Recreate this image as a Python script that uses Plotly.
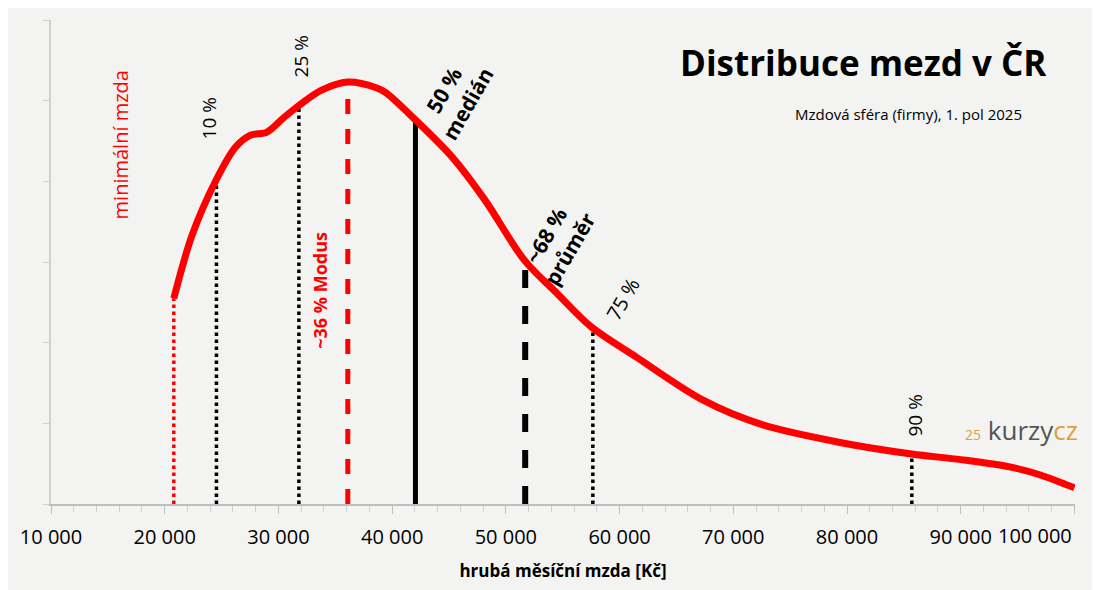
import plotly.graph_objects as go

# wage distribution curve (Kč, relative density)
curve_x = [20800, 22400, 24500, 26200, 27500, 29000, 30400, 31800, 33800, 36100, 38600, 39440,
           42060, 45280, 48150, 51640, 54510, 57470, 61480, 67300, 72600, 79500, 85700,
           90000, 94300, 97000, 100000]
curve_y = [2.55, 3.33, 4.01, 4.42, 4.57, 4.61, 4.78, 4.94, 5.13, 5.23, 5.16, 5.10,
           4.76, 4.30, 3.77, 3.02, 2.61, 2.20, 1.82, 1.29, 0.98, 0.76, 0.62,
           0.55, 0.46, 0.36, 0.2]

# marker lines: position, height, colour, dash, width
marks_x = [20800, 24550, 31800, 36100, 42050, 51700, 57650, 85700]
marks_y = [2.55, 4.01, 4.94, 5.23, 4.76, 3.0, 2.2, 0.62]
marks_color = ["red", "black", "black", "red", "black", "black", "black", "black"]
marks_dash = ["dot", "dot", "dot", "dash", "solid", "dash", "dot", "dot"]
marks_width = [3.5, 3.5, 3.5, 5, 5, 6, 3.5, 3.5]

tick_vals = list(range(10000, 100001, 10000))
tick_text = ["10 000", "20 000", "30 000", "40 000", "50 000", "60 000",
             "70 000", "80 000", "90 000", ""]
last_tick = "100 000"

fig = go.Figure()
for x, y, c, d, w in zip(marks_x, marks_y, marks_color, marks_dash, marks_width):
    fig.add_trace(go.Scatter(x=[x, x], y=[0, y], mode="lines",
                             line=dict(color=c, dash=d, width=w), showlegend=False))
fig.add_trace(go.Scatter(x=curve_x, y=curve_y, mode="lines",
                         line=dict(color="red", width=7, shape="spline", smoothing=0.9),
                         showlegend=False, cliponaxis=False))

font = "Open Sans"
labels = [
    (16100, 4.45, "minimální mzda", "red", False, 20, -90),
    (23900, 4.78, "10 %", "black", False, 19, -90),
    (32000, 5.55, "25 %", "black", False, 19, -90),
    (33700, 2.65, "~36 % Modus", "red", True, 18, -90),
    (45600, 5.05, "50 %<br>medián", "black", True, 21, -60),
    (54600, 3.25, "~68 %<br>průměr", "black", True, 21, -60),
    (60300, 2.55, "75 %", "black", False, 20, -60),
    (86000, 1.1, "90 %", "black", False, 19, -90),
]
for x, y, t, c, b, s, a in labels:
    fig.add_annotation(x=x, y=y, text=f"<b>{t}</b>" if b else t, showarrow=False,
                       textangle=a, font=dict(color=c, size=s, family=font))

fig.add_annotation(x=tick_vals[-1], y=0, yref="paper", xanchor="right", yanchor="top", yshift=-16,
                   text=last_tick, showarrow=False, font=dict(size=20, color="black", family=font))
fig.add_annotation(x=0.975, y=0.965, xref="paper", yref="paper", xanchor="right", yanchor="top",
                   text="<b>Distribuce mezd v ČR</b>", showarrow=False,
                   font=dict(size=35, color="black", family=font))
fig.add_annotation(x=0.95, y=0.83, xref="paper", yref="paper", xanchor="right", yanchor="top",
                   text="Mzdová sféra (firmy), 1. pol 2025", showarrow=False,
                   font=dict(size=15, color="black", family=font))
fig.add_annotation(x=1.005, y=0.195, xref="paper", yref="paper", xanchor="right", yanchor="top",
                   text="<span style='color:#d9a040;font-size:14px'>25</span> kurzy<span style='color:#d9a040'>cz</span>",
                   showarrow=False, font=dict(size=26, color="#555", family=font))

fig.update_layout(
    width=1092, height=582, margin=dict(l=34, r=25, t=12, b=86),
    paper_bgcolor="#f3f3f1", plot_bgcolor="#f3f3f1",
    xaxis=dict(range=[10000, 100050], tickvals=tick_vals, ticktext=tick_text,
               showgrid=False, zeroline=False, showline=True, linecolor="#bfbfbf", linewidth=2,
               ticks="outside", ticklen=8, tickcolor="#bfbfbf", ticklabelstandoff=6,
               minor=dict(dtick=2000, ticks="outside", ticklen=6, tickcolor="#d0d0d0"),
               tickfont=dict(size=20, color="black", family=font),
               title=dict(text="<b>hrubá měsíční mzda [Kč]</b>", font=dict(size=17, color="black", family=font),
                          standoff=16)),
    yaxis=dict(range=[0, 6], dtick=1, showticklabels=False, showgrid=False, zeroline=False,
               showline=True, linecolor="#d0d0d0", linewidth=2, ticks="outside", ticklen=6,
               tickcolor="#d0d0d0"),
)
fig.write_html("out.html")
